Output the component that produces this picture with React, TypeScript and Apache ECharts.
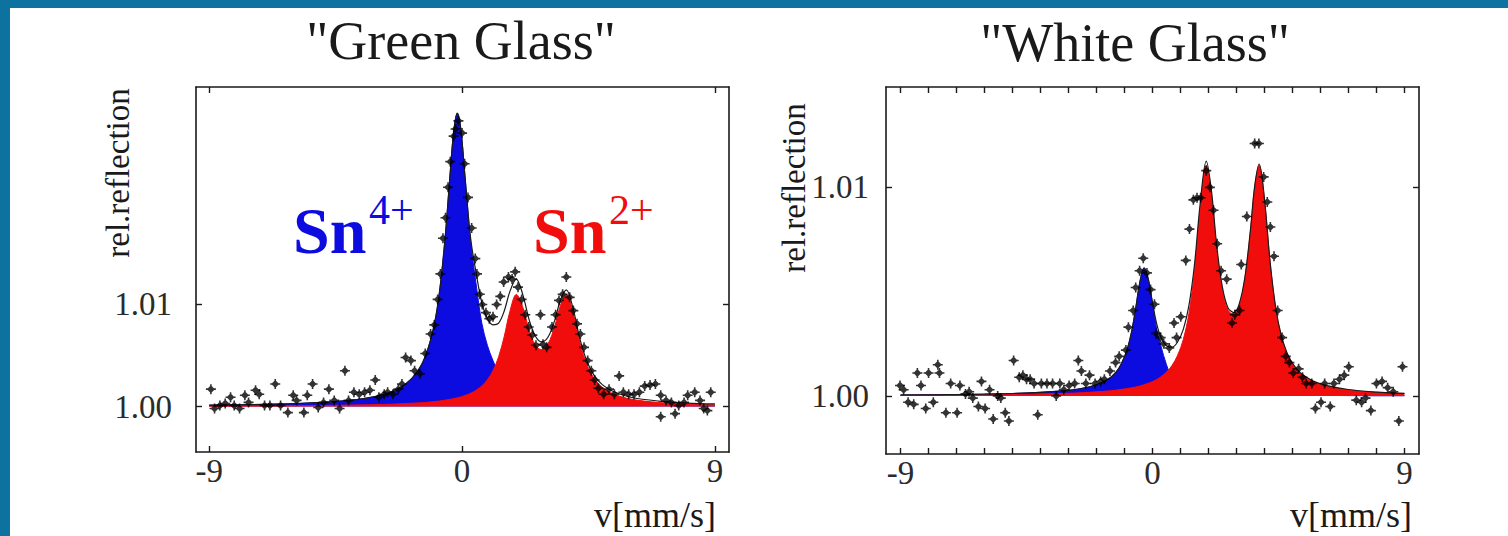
import React, { useEffect, useRef } from "react";
import * as echarts from "echarts";

// Velocity grids (mm/s) for the fitted sub-spectra
const GREEN_V = [-9, -8, -7, -6, -5, -4, -3.5, -3, -2.5, -2, -1.6, -1.3, -1.0, -0.8, -0.6, -0.45, -0.3, -0.17, -0.05, 0.1, 0.3, 0.5, 0.7, 0.9, 1.1, 1.3, 1.5, 1.7, 1.93, 2.15, 2.4, 2.6, 2.82, 3.05, 3.3, 3.5, 3.71, 3.95, 4.2, 4.45, 4.7, 5.0, 5.4, 6, 7, 8, 9];
const GREEN_SN4 = [1.00013, 1.00016, 1.00022, 1.00028, 1.0004, 1.00061, 1.00078, 1.00104, 1.00146, 1.00223, 1.00339, 1.00497, 1.0079, 1.01131, 1.01665, 1.02193, 1.0269, 1.02875, 1.02732, 1.02267, 1.0163, 1.012, 1.0082, 1.006, 1.0045, 1.0033, 1.0025, 1.00195, 1.0015, 1.00124, 1.00102, 1.00088, 1.00076, 1.00066, 1.00057, 1.00051, 1.00046, 1.0004, 1.00036, 1.00032, 1.00029, 1.00026, 1.00022, 1.00018, 1.00014, 1.0001, 1.00008];
const GREEN_SN2 = [1.00004, 1.00005, 1.00007, 1.00008, 1.0001, 1.00014, 1.00016, 1.00019, 1.00023, 1.00029, 1.00035, 1.0004, 1.00048, 1.00054, 1.00062, 1.00069, 1.00077, 1.00085, 1.00094, 1.00107, 1.00129, 1.00159, 1.00201, 1.00262, 1.00351, 1.00487, 1.00686, 1.00931, 1.01098, 1.00983, 1.00735, 1.00606, 1.00558, 1.0061, 1.0079, 1.00991, 1.01098, 1.00919, 1.0062, 1.00406, 1.00276, 1.00186, 1.00122, 1.00073, 1.00039, 1.00024, 1.00017];
const GREEN_FIT = [1.00013, 1.00017, 1.00021, 1.00028, 1.0004, 1.00061, 1.00078, 1.00104, 1.00146, 1.00223, 1.00339, 1.00497, 1.0079, 1.01131, 1.01665, 1.02193, 1.0269, 1.02875, 1.02732, 1.02267, 1.01659, 1.01309, 1.01021, 1.00862, 1.00801, 1.00817, 1.00936, 1.01126, 1.01248, 1.01107, 1.00837, 1.00694, 1.00634, 1.00676, 1.00847, 1.01042, 1.01144, 1.00959, 1.00656, 1.00438, 1.00305, 1.00212, 1.00144, 1.00091, 1.00053, 1.00034, 1.00025];
const GREEN_POINTS: [number, number][] = [
  [-8.94, 1.0017], [-8.81, 0.9998], [-8.62, 1.0001], [-8.43, 1.0003], [-8.24, 1.0009], [-8.11, 1.0001], [-7.92, 0.9998], [-7.73, 1.0011], [-7.6, 1.0004], [-7.35, 1.0016], [-7.22, 1.0012], [-7.03, 1.0001], [-6.84, 1.0001], [-6.65, 1.0022], [-6.46, 1.0001], [-6.2, 0.9994], [-6.01, 1.0011], [-5.89, 1.0006], [-5.63, 0.9994], [-5.51, 1.0011], [-5.32, 1.0022], [-5.12, 0.9999], [-4.93, 1.0004], [-4.74, 1.0017], [-4.55, 1.0006], [-4.36, 0.9998], [-4.17, 1.0035], [-4.04, 1.0006], [-3.85, 1.0014], [-3.66, 1.0012], [-3.47, 1.0014], [-3.28, 1.0016], [-3.09, 1.0026], [-2.96, 1.0009], [-2.77, 1.0012], [-2.65, 1.0014], [-2.46, 1.0012], [-2.27, 1.0017], [-2.14, 1.0022], [-2.01, 1.0048], [-1.82, 1.0045], [-1.69, 1.0035], [-1.5, 1.0032], [-1.31, 1.0052], [-1.12, 1.0071], [-0.99, 1.008], [-0.87, 1.0105], [-0.77, 1.013], [-0.68, 1.0165], [-0.59, 1.0185], [-0.5, 1.0215], [-0.42, 1.024], [-0.3, 1.0265], [-0.23, 1.0272], [-0.13, 1.028], [0.0, 1.0268], [0.09, 1.0238], [0.21, 1.0205], [0.34, 1.0175], [0.47, 1.0145], [0.53, 1.013], [0.63, 1.011], [0.72, 1.01], [0.85, 1.0092], [0.97, 1.0086], [1.1, 1.0088], [1.23, 1.01], [1.36, 1.0108], [1.48, 1.0122], [1.65, 1.0127], [1.78, 1.0125], [1.89, 1.0132], [1.99, 1.0117], [2.12, 1.0105], [2.25, 1.009], [2.37, 1.0078], [2.5, 1.007], [2.63, 1.006], [2.79, 1.009], [2.88, 1.0061], [3.01, 1.0058], [3.2, 1.0078], [3.33, 1.009], [3.45, 1.0104], [3.58, 1.011], [3.71, 1.0127], [3.83, 1.0107], [3.96, 1.0094], [4.09, 1.0081], [4.21, 1.0071], [4.34, 1.0058], [4.47, 1.0045], [4.6, 1.0035], [4.72, 1.0026], [4.85, 1.0018], [5.04, 1.0012], [5.23, 1.0017], [5.42, 1.0012], [5.59, 1.003], [5.74, 1.0014], [5.93, 1.0012], [6.12, 1.0012], [6.31, 1.0014], [6.5, 1.002], [6.69, 1.0021], [6.88, 1.0022], [7.07, 1.0011], [7.07, 0.999], [7.26, 1.0006], [7.45, 1.0004], [7.58, 0.9993], [7.71, 1.0001], [7.9, 1.0004], [8.03, 1.0011], [8.28, 1.0014], [8.47, 1.0006], [8.6, 0.9998], [8.73, 0.9996], [8.85, 1.0014],
];

const WHITE_V = [-9, -8, -7, -6, -5, -4, -3, -2.5, -2, -1.6, -1.3, -1.1, -0.9, -0.75, -0.6, -0.45, -0.3, -0.15, 0, 0.15, 0.3, 0.5, 0.7, 0.9, 1.1, 1.3, 1.5, 1.7, 1.92, 2.1, 2.3, 2.5, 2.7, 2.91, 3.1, 3.3, 3.5, 3.65, 3.81, 4.0, 4.2, 4.4, 4.6, 4.8, 5.0, 5.4, 6, 7, 8, 9];
const WHITE_SN4 = [1.00004, 1.00006, 1.00007, 1.00009, 1.00012, 1.00018, 1.00027, 1.00037, 1.00054, 1.00079, 1.00115, 1.00158, 1.00226, 1.00306, 1.0042, 1.00547, 1.00614, 1.0056, 1.00446, 1.0032, 1.0024, 1.0015, 1.00087, 1.00064, 1.00048, 1.00038, 1.0003, 1.00025, 1.0002, 1.00017, 1.00015, 1.00013, 1.00011, 1.0001, 1.00009, 1.00008, 1.00007, 1.00007, 1.00006, 1.00006, 1.00005, 1.00005, 1.00004, 1.00004, 1.00004, 1.00003, 1.00003, 1.00002, 1.00001, 1.00001];
const WHITE_SN2 = [1.00003, 1.00004, 1.00005, 1.00006, 1.00007, 1.0001, 1.00013, 1.00016, 1.0002, 1.00024, 1.00028, 1.00032, 1.00036, 1.00039, 1.00043, 1.00048, 1.00054, 1.00061, 1.00069, 1.00079, 1.00092, 1.00115, 1.00147, 1.00196, 1.00271, 1.00395, 1.006, 1.00893, 1.01106, 1.00973, 1.00698, 1.00506, 1.00411, 1.0039, 1.00434, 1.00561, 1.00791, 1.00999, 1.01106, 1.00938, 1.00639, 1.00419, 1.00286, 1.00205, 1.00153, 1.00095, 1.00055, 1.00029, 1.00018, 1.00012];
const WHITE_FIT = [1.00005, 1.00005, 1.00007, 1.00009, 1.00012, 1.00017, 1.00027, 1.00037, 1.00054, 1.00079, 1.00115, 1.00158, 1.00226, 1.00306, 1.0042, 1.00547, 1.00614, 1.0056, 1.00446, 1.00346, 1.00282, 1.00241, 1.00234, 1.0026, 1.00319, 1.00433, 1.0063, 1.00918, 1.01126, 1.0099, 1.00713, 1.00519, 1.00422, 1.004, 1.00443, 1.00569, 1.00798, 1.01006, 1.01112, 1.00944, 1.00644, 1.00424, 1.0029, 1.00209, 1.00157, 1.00098, 1.00058, 1.00031, 1.00019, 1.00013];
const WHITE_POINTS: [number, number][] = [
  [-9.02, 1.0005], [-8.89, 1.0003], [-8.73, 0.9997], [-8.53, 0.9996], [-8.4, 1.0011], [-8.27, 1.0005], [-8.1, 0.9994], [-8.0, 1.0011], [-7.83, 0.9997], [-7.67, 1.0015], [-7.61, 1.0011], [-7.38, 0.9992], [-7.21, 1.0006], [-6.98, 0.9992], [-6.88, 1.0005], [-6.68, 1.0001], [-6.55, 1.0002], [-6.42, 0.9999], [-6.22, 0.9995], [-6.11, 1.0007], [-5.98, 0.9994], [-5.82, 1.0003], [-5.69, 0.9989], [-5.53, 1.0], [-5.42, 0.9999], [-5.26, 0.9992], [-5.13, 0.9988], [-4.96, 1.0017], [-4.76, 1.0009], [-4.63, 1.001], [-4.5, 1.0008], [-4.37, 1.0008], [-4.23, 1.0006], [-4.1, 0.9991], [-3.97, 1.0006], [-3.77, 1.0006], [-3.57, 1.0006], [-3.44, 1.0], [-3.31, 1.0006], [-3.17, 1.0003], [-2.98, 1.0005], [-2.78, 1.0006], [-2.65, 1.0017], [-2.54, 1.0012], [-2.38, 1.0006], [-2.25, 1.001], [-2.05, 1.0006], [-1.85, 1.0007], [-1.72, 1.0008], [-1.52, 1.0012], [-1.32, 1.0016], [-1.19, 1.0019], [-0.95, 1.0022], [-0.86, 1.0033], [-0.69, 1.0041], [-0.6, 1.0052], [-0.46, 1.006], [-0.33, 1.0066], [-0.2, 1.0059], [-0.07, 1.0051], [0.07, 1.0044], [0.13, 1.003], [0.29, 1.0028], [0.4, 1.0025], [0.6, 1.0023], [0.77, 1.0035], [0.86, 1.0028], [1.01, 1.0038], [1.19, 1.0065], [1.32, 1.008], [1.46, 1.0094], [1.59, 1.0095], [1.72, 1.0095], [1.92, 1.0108], [2.05, 1.01], [2.18, 1.0089], [2.31, 1.0073], [2.45, 1.006], [2.65, 1.0056], [2.84, 1.0035], [2.94, 1.0039], [3.11, 1.0041], [3.17, 1.0063], [3.37, 1.0086], [3.65, 1.0121], [3.8, 1.0121], [3.97, 1.0105], [4.1, 1.0093], [4.21, 1.0081], [4.34, 1.0067], [4.47, 1.0041], [4.63, 1.0028], [4.76, 1.0019], [4.89, 1.0016], [5.03, 1.0011], [5.22, 1.0013], [5.36, 1.0009], [5.49, 1.0006], [5.69, 1.0006], [5.82, 0.9994], [6.02, 0.9997], [6.15, 1.0006], [6.35, 0.9995], [6.48, 1.0006], [6.68, 1.0008], [6.85, 1.001], [7.01, 1.0014], [7.28, 0.9998], [7.47, 0.9997], [7.61, 0.9999], [7.8, 0.9993], [8.0, 1.0006], [8.2, 1.0007], [8.4, 1.0004], [8.6, 1.0002], [8.8, 0.9988], [8.93, 1.0014],
];

const X_LABELS = [-9, 0, 9];
const X_MINOR_TICKS = [-9, -8, -7, -6, -5, -4, -3, -2, -1, 0, 1, 2, 3, 4, 5, 6, 7, 8, 9];
const Y_LABELS = [1.0, 1.01];

const FONT = '"Liberation Serif", "Times New Roman", serif';
const BLUE = "#0c0ce0";
const RED = "#f20d0d";
const INK = "#1a1a1a";
const TEAL = "#0d72a0";

// Crosshair-and-diamond marker used for the measured channels
const POINT_SYMBOL = "path://M4.2 0H5.8V10H4.2Z M0 4.2H10V5.8H0Z M5 1L9 5L5 9L1 5Z";

const pairs = (xs: number[], ys: number[]) => xs.map((x, i) => [x, ys[i]]);

function xAxes(grid: number, min: number, max: number, ticks: number[]) {
  const line = { show: true, onZero: false, lineStyle: { color: INK, width: 1.6 } };
  const tick = { show: true, inside: true, length: 6, customValues: ticks, lineStyle: { color: INK, width: 1.4 } };
  return [
    {
      gridIndex: grid, type: "value", min, max, position: "bottom",
      axisLine: line, axisTick: tick, splitLine: { show: false },
      axisLabel: { show: true, customValues: X_LABELS, formatter: (v: number) => String(v), fontFamily: FONT, fontSize: 33, color: "#2b2b2b", margin: 2 },
    },
    {
      gridIndex: grid, type: "value", min, max, position: "top",
      axisLine: line, axisTick: tick, splitLine: { show: false }, axisLabel: { show: false },
    },
  ];
}

function yAxes(grid: number, min: number, max: number, labelMargin: number) {
  const line = { show: true, onZero: false, lineStyle: { color: INK, width: 1.6 } };
  const tick = { show: true, inside: true, length: 6, customValues: Y_LABELS, lineStyle: { color: INK, width: 1.4 } };
  return [
    {
      gridIndex: grid, type: "value", min, max, position: "left",
      axisLine: line, axisTick: tick, splitLine: { show: false },
      axisLabel: { show: true, customValues: Y_LABELS, formatter: (v: number) => v.toFixed(2), fontFamily: FONT, fontSize: 33, color: "#2b2b2b", margin: labelMargin },
    },
    {
      gridIndex: grid, type: "value", min, max, position: "right",
      axisLine: line, axisTick: tick, splitLine: { show: false }, axisLabel: { show: false },
    },
  ];
}

function panelSeries(xi: number, yi: number, v: number[], sn4: number[], sn2: number[], fit: number[], pts: [number, number][]) {
  return [
    {
      type: "line", xAxisIndex: xi, yAxisIndex: yi, data: pairs(v, sn4), smooth: 0.35, symbol: "none",
      lineStyle: { color: BLUE, width: 1 }, areaStyle: { color: BLUE, opacity: 1, origin: 1 }, z: 2,
    },
    {
      type: "line", xAxisIndex: xi, yAxisIndex: yi, data: pairs(v, sn2), smooth: 0.35, symbol: "none",
      lineStyle: { color: RED, width: 1 }, areaStyle: { color: RED, opacity: 1, origin: 1 }, z: 3,
    },
    {
      type: "line", xAxisIndex: xi, yAxisIndex: yi, data: pairs(v, fit), smooth: 0.35, symbol: "none",
      lineStyle: { color: INK, width: 1.2 }, z: 4,
    },
    {
      type: "scatter", xAxisIndex: xi, yAxisIndex: yi, data: pts, symbol: POINT_SYMBOL, symbolSize: 10,
      itemStyle: { color: "#000000" }, z: 5,
    },
  ];
}

function label(text: string, x: number, y: number, size: number, opts: Record<string, unknown> = {}) {
  const { fill = INK, weight = "normal", align = "center", rotation = 0 } = opts as any;
  return {
    type: "text", x, y, rotation,
    style: { text, fontFamily: FONT, fontSize: size, fontWeight: weight, fill, align, verticalAlign: "middle" },
  };
}

export default function App() {
  const ref = useRef<HTMLDivElement>(null);

  useEffect(() => {
    if (!ref.current) return;
    const chart = echarts.init(ref.current, undefined, { renderer: "svg" });
    chart.setOption({
      animation: false,
      backgroundColor: "#ffffff",
      grid: [
        { left: 196, top: 87, width: 533, height: 365, show: false },
        { left: 886, top: 87, width: 533, height: 367, show: false },
      ],
      xAxis: [...xAxes(0, -9.47, 9.5, X_LABELS), ...xAxes(1, -9.52, 9.52, X_MINOR_TICKS)],
      yAxis: [...yAxes(0, 0.99554, 1.03132, 24), ...yAxes(1, 0.99722, 1.01481, 17)],
      series: [
        ...panelSeries(0, 0, GREEN_V, GREEN_SN4, GREEN_SN2, GREEN_FIT, GREEN_POINTS),
        ...panelSeries(2, 2, WHITE_V, WHITE_SN4, WHITE_SN2, WHITE_FIT, WHITE_POINTS),
      ],
      graphic: [
        { type: "rect", shape: { x: 0, y: 0, width: 10, height: 536 }, style: { fill: TEAL } },
        { type: "rect", shape: { x: 0, y: 0, width: 1508, height: 8 }, style: { fill: TEAL } },
        label('"Green Glass"', 461, 41, 54),
        label('"White Glass"', 1135, 43, 54),
        label("rel.reflection", 118, 173, 33, { rotation: Math.PI / 2 }),
        label("rel.reflection", 794, 188, 33, { rotation: Math.PI / 2 }),
        label("v[mm/s]", 716, 515, 36, { align: "right" }),
        label("v[mm/s]", 1412, 515, 36, { align: "right" }),
        label("Sn", 293, 230, 66, { fill: BLUE, weight: "bold", align: "left" }),
        label("4+", 369, 210, 42, { fill: BLUE, align: "left" }),
        label("Sn", 533, 230, 66, { fill: RED, weight: "bold", align: "left" }),
        label("2+", 609, 210, 42, { fill: RED, align: "left" }),
      ],
    });
    return () => chart.dispose();
  }, []);

  return <div ref={ref} style={{ position: "fixed", left: 0, top: 0, width: 1508, height: 536, background: "#fff" }} />;
}
